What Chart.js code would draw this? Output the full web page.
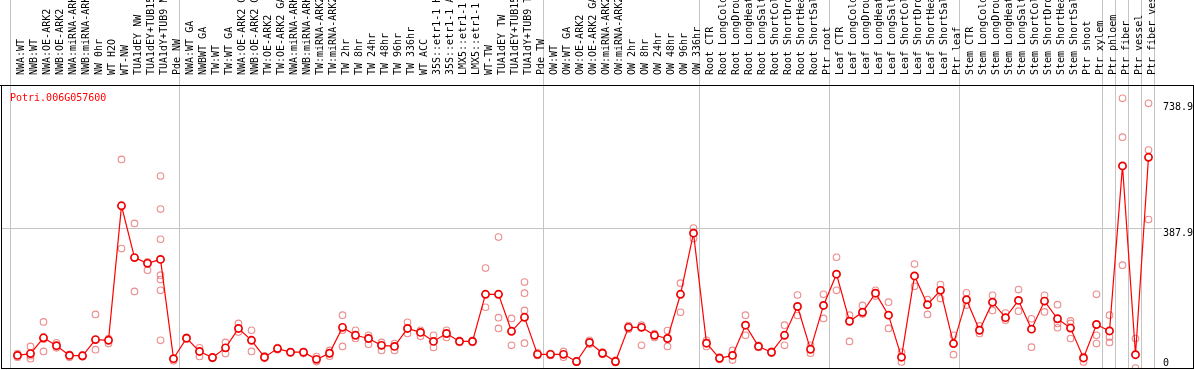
<!DOCTYPE html>
<html>
<head>
<meta charset="utf-8">
<script src="https://cdn.jsdelivr.net/npm/chart.js@4.4.1/dist/chart.umd.min.js"></script>
<style>
  html, body { margin: 0; padding: 0; background: #fff; }
  canvas { display: block; }
</style>
</head>
<body>
<canvas id="c" width="1194" height="370"></canvas>
<script>
const geneName = "Potri.006G057600";

const categories = [
  "NWA:WT","NWB:WT","NWA:OE-ARK2","NWB:OE-ARK2","NWA:miRNA-ARK2","NWB:miRNA-ARK2","NW 0hr","WT H2O","WT-NW","TUA1dEY NW","TUA1dEY+TUB15","TUA1dY+TUB9 NW","Pde NW",
  "NWA:WT GA","NWBWT GA","TW:WT","TW:WT GA","NWA:OE-ARK2 GA","NWB:OE-ARK2 GA","TW:OE-ARK2","TW:OE-ARK2 GA","NWA:miRNA-ARK2","NWB:miRNA-ARK2","TW:miRNA-ARK2","TW:miRNA-ARK2","TW 2hr","TW 8hr","TW 24hr","TW 48hr","TW 96hr","TW 336hr","WT ACC","35S::etr1-1 H2","35S::etr1-1 AC","LMX5::etr1-1 H","LMX5::etr1-1 A","WT-TW","TUA1dEY TW","TUA1dEY+TUB15","TUA1dY+TUB9 TW","Pde TW",
  "OW:WT","OW:WT GA","OW:OE-ARK2","OW:OE-ARK2 GA","OW:miRNA-ARK2","OW:miRNA-ARK2","OW 2hr","OW 8hr","OW 24hr","OW 48hr","OW 96hr","OW 336hr",
  "Root CTR","Root LongCold","Root LongDroug","Root LongHeat","Root LongSalt","Root ShortCold","Root ShortDrou","Root ShortHeat","Root ShortSalt","Ptr root",
  "Leaf CTR","Leaf LongCold","Leaf LongDroug","Leaf LongHeat","Leaf LongSalt","Leaf ShortCold","Leaf ShortDrou","Leaf ShortHeat","Leaf ShortSalt","Ptr leaf",
  "Stem CTR","Stem LongCold","Stem LongDroug","Stem LongHeat","Stem LongSalt","Stem ShortCold","Stem ShortDrou","Stem ShortHeat","Stem ShortSalt","Ptr shoot","Ptr xylem",
  "Ptr phloem","Ptr fiber","Ptr vessel","Ptr fiber vess"
];

// index of the first category of each group (separator drawn at its left edge)
const groupStarts = [0, 13, 41, 53, 63, 73, 84, 85, 86, 87];

const meanValues = [
  35, 40, 84, 62, 35, 34, 79, 77, 451, 307, 291, 302, 26,
  83, 46, 29, 56, 110, 77, 30, 54, 44, 44, 24, 41, 113, 91, 82, 63, 60, 110, 99, 74, 96, 74, 74, 205, 205, 102, 141, 38,
  38, 38, 18, 71, 41, 18, 113, 113, 91, 82, 205, 375,
  69, 27, 35, 119, 60, 44, 91, 171, 52, 174,
  261, 130, 155, 208, 147, 30, 256, 176, 216, 68,
  190, 105, 183, 140, 188, 108, 186, 137, 111, 28, 121,
  103, 562, 37, 586
];

const replicateValues = [
  [30, 36, 40], [60, 26, 34], [128, 46, 80], [70, 56, 62], [38, 30], [36, 31], [149, 51], [82, 68], [580, 332], [402, 213], [295, 272], [534, 442, 358, 258, 246, 216, 77], [26, 20],
  [85, 80], [56, 32], [27, 30], [71, 40], [124, 100], [105, 46], [34, 27], [57, 51], [45, 42], [44, 40], [32, 18], [49, 33], [147, 105, 60], [105, 82], [91, 66], [71, 49], [68, 49], [127, 96], [105, 88], [91, 57], [105, 85], [77, 71], [77, 71], [278, 169], [364, 140, 110], [138, 63], [239, 208, 160, 69], [43, 35],
  [40, 35], [46, 30], [20, 16], [77, 66], [44, 38], [22, 15], [118, 108], [119, 63], [96, 85], [104, 60], [236, 155], [389, 360],
  [77, 60], [30, 24], [49, 22], [147, 91], [63, 57], [46, 41], [119, 63], [203, 146], [63, 41], [205, 138],
  [308, 216], [147, 74], [174, 150], [216, 200], [183, 110], [44, 17], [289, 227], [190, 149], [232, 193], [91, 37],
  [209, 175], [117, 96], [202, 160], [153, 133], [218, 158], [137, 58], [202, 156], [176, 124, 112], [131, 124, 82], [17, 32], [205, 91, 68],
  [147, 86, 71], [750, 642, 286], [82, 0], [736, 606, 413]
];

const yTicks = [0, 387.9, 738.9];
const gridTickValue = 387.9;

const Y_MIN = 0, Y_MAX = 787;
const X_MIN = -1.26923, X_MAX = 90.42308;
const LABEL_SHIFT = 1.25;
const GRID = '#c4c4c4';
const FONT = { family: 'DejaVu Sans Mono', size: 10 };

const meanPoints = meanValues.map((v, i) => ({ x: i, y: v }));
const repPoints = replicateValues.flatMap((arr, i) => arr.map(v => ({ x: i, y: v })));

const framePlugin = {
  id: 'frame',
  afterDraw(chart) {
    const { ctx, chartArea: a } = chart;
    ctx.save();
    ctx.strokeStyle = '#000';
    ctx.lineWidth = 1;
    ctx.strokeRect(a.left + 0.5, a.top + 0.5, a.right - a.left, a.bottom - a.top);
    ctx.beginPath();
    ctx.moveTo(0, a.top + 0.5);
    ctx.lineTo(a.left, a.top + 0.5);
    ctx.stroke();
    ctx.fillStyle = '#ff0000';
    ctx.font = '10px "DejaVu Sans Mono"';
    ctx.textBaseline = 'alphabetic';
    ctx.textAlign = 'left';
    ctx.fillText(geneName, 10, 101);
    ctx.restore();
  }
};

new Chart(document.getElementById('c'), {
  type: 'line',
  data: {
    datasets: [
      {
        type: 'line',
        data: meanPoints,
        borderColor: '#ff0000',
        borderWidth: 1.2,
        tension: 0,
        pointRadius: 3.6,
        pointBorderWidth: 1.7,
        pointBorderColor: '#ee0000',
        pointBackgroundColor: '#ffffff',
        xAxisID: 'x', yAxisID: 'y'
      },
      {
        type: 'scatter',
        data: repPoints,
        showLine: false,
        pointRadius: 3.3,
        pointBorderWidth: 1.1,
        pointBorderColor: 'rgba(232,120,120,0.85)',
        pointBackgroundColor: 'rgba(0,0,0,0)',
        xAxisID: 'x', yAxisID: 'y'
      }
    ]
  },
  options: {
    responsive: false,
    devicePixelRatio: 1,
    animation: false,
    layout: { autoPadding: false, padding: { left: 1, right: 1, top: 0, bottom: 2 } },
    plugins: { legend: { display: false }, tooltip: { enabled: false }, title: { display: false } },
    scales: {
      x: {
        type: 'linear', position: 'top', weight: 0, min: X_MIN, max: X_MAX,
        afterBuildTicks(s) { s.ticks = categories.map((_, i) => ({ value: i })); },
        afterFit(s) { s.height = 0; s.paddingLeft = 0; s.paddingRight = 0; },
        ticks: { display: false, autoSkip: false },
        grid: {
          offset: true, drawOnChartArea: true, drawTicks: true, tickLength: 85, lineWidth: 1,
          color: (ctx) => (ctx.index === undefined || groupStarts.includes(ctx.index)) ? GRID : 'rgba(0,0,0,0)',
          tickColor: (ctx) => (ctx.index === undefined || groupStarts.includes(ctx.index)) ? GRID : 'rgba(0,0,0,0)'
        },
        border: { display: false }
      },
      xl: {
        type: 'linear', position: 'top', weight: 1, min: X_MIN, max: X_MAX,
        afterBuildTicks(s) { s.ticks = categories.map((_, i) => ({ value: i + LABEL_SHIFT })); },
        afterFit(s) { s.height = 85; s.paddingLeft = 0; s.paddingRight = 0; },
        grid: { display: false },
        border: { display: false },
        ticks: {
          autoSkip: false, minRotation: 90, maxRotation: 90, padding: 2,
          font: FONT, color: '#000',
          callback: (v) => categories[Math.round(v - LABEL_SHIFT)]
        }
      },
      y: {
        type: 'linear', position: 'left', min: Y_MIN, max: Y_MAX,
        afterBuildTicks(s) { s.ticks = yTicks.slice(1).map(v => ({ value: v })); },
        afterFit(s) { s.width = 0; s.paddingTop = 0; s.paddingBottom = 0; },
        grid: {
          drawTicks: false, lineWidth: 1,
          color: (ctx) => (ctx.tick && ctx.tick.value === gridTickValue) ? GRID : 'rgba(0,0,0,0)'
        },
        border: { display: false },
        ticks: {
          mirror: true, crossAlign: 'near', align: 'start', padding: 1162,
          font: FONT, color: '#000',
          showLabelBackdrop: true, backdropColor: '#ffffff',
          backdropPadding: { top: 1, bottom: 0, left: 1, right: 2 },
          callback: (v) => String(v)
        }
      },
      y0: {
        type: 'linear', position: 'left', min: Y_MIN, max: Y_MAX,
        afterBuildTicks(s) { s.ticks = yTicks.slice(0, 1).map(v => ({ value: v })); },
        afterFit(s) { s.width = 0; s.paddingTop = 0; s.paddingBottom = 0; },
        grid: { display: false },
        border: { display: false },
        ticks: {
          mirror: true, crossAlign: 'near', align: 'end', padding: 1162,
          font: FONT, color: '#000',
          callback: (v) => String(v)
        }
      }
    }
  },
  plugins: [framePlugin]
});
</script>
</body>
</html>
